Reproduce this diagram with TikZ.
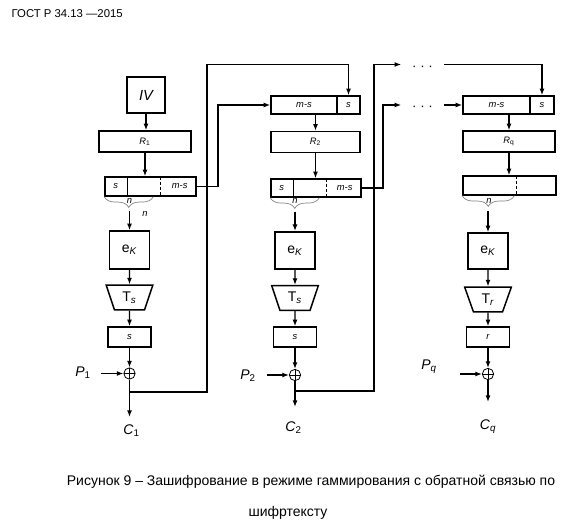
\documentclass[tikz,border=0pt]{standalone}
\usepackage{fontspec}
\setmainfont{Liberation Sans}
\usetikzlibrary{arrows.meta,calc,shapes.geometric,decorations.pathreplacing}
\newcommand{\isub}[2]{\textit{#1}\textsubscript{#2}}
\tikzset{
  blk/.style={draw,line width=1.1pt,inner sep=0pt},
  lbl/.style={font=\fontsize{7}{8}\selectfont},
  big/.style={font=\fontsize{10.5}{12}\selectfont},
  conn/.style={line width=1.05pt},
  arr/.style={conn,-{Latex[length=5pt,width=3.8pt]}},
  xorop/.style={draw,circle,line width=0.6pt,minimum size=8.5pt,inner sep=0pt,
    path picture={\draw[line width=0.6pt] (path picture bounding box.north) -- (path picture bounding box.south)
      (path picture bounding box.west) -- (path picture bounding box.east);}},
  trap/.style={blk,trapezium,trapezium stretches=true,shape border rotate=180,
    trapezium left angle=72,trapezium right angle=72,minimum width=35pt,minimum height=18.5pt},
  nbrace/.style={draw=black!50,line width=0.5pt,decorate,decoration={brace,mirror,amplitude=8pt}},
  dots/.style={font=\fontsize{10}{12}\selectfont,inner xsep=8pt,inner ysep=0pt,text height=9pt,text depth=0pt},
}
\begin{document}
\begin{tikzpicture}[x=0.75pt,y=-0.75pt]
  \useasboundingbox (0,0) rectangle (582,527);
  \node[anchor=west,font=\fontsize{8.5}{10}\selectfont] (hdr) at (7,14) {ГОСТ Р 34.13 —2015};
  % column 1
  \node[blk,minimum width=28.5pt,minimum height=27pt,font=\fontsize{11}{12}\selectfont\itshape] (iv) at (146,95) {IV};
  \node[blk,minimum width=69pt,minimum height=15.75pt,lbl] (r1) at (145,141.5) {\isub{R}{1}};
  \node[blk,minimum width=68.25pt,minimum height=14.25pt] (reg1) at (150.5,186.5) {};
  \draw[conn] ($(reg1.north west)+(23,0)$) -- ($(reg1.south west)+(23,0)$);
  \draw[conn,dash pattern=on 2.5pt off 1.5pt] ($(reg1.north west)+(56,0)$) -- ($(reg1.south west)+(56,0)$);
  \node[lbl] (rs1) at ($(reg1.west)+(11.5,0)$) {\textit{s}};
  \node[lbl] (rms1) at ($(reg1.east)+(-17,0)$) {\textit{m-s}};
  \draw[nbrace] (reg1.south west) -- ($(reg1.south west)+(49,0)$);
  \node[lbl] (n1a) at (129.5,200.5) {\textit{n}};
  \node[lbl] (n1b) at (145,214) {\textit{n}};
  \coordinate (bt1) at (129.5,211);
  \node[blk,minimum width=30pt,minimum height=28.5pt,big] (ek1) at (129.5,250) {e\textsubscript{\textit{K}}};
  \node[trap,big] (ts1) at (129.5,297.5) {T\textsubscript{\textit{s}}};
  \node[blk,minimum width=32.25pt,minimum height=15pt,lbl] (sb1) at (129.5,337) {\textit{s}};
  \node[xorop] (x1) at (129.5,373.5) {};
  \node[big] (p1) at (83,373) {\isub{P}{1}};
  \coordinate (pin1) at (101,373.5);
  \coordinate (fb1) at (129.5,392);
  \coordinate (out1) at (129.5,417);
  \node[big] (c1) at (131.5,431) {\isub{C}{1}};
  \draw[arr] (iv.south) -- (iv.south |- r1.north);
  \draw[arr] (r1.south) -- (r1.south |- reg1.north);
  \draw[arr] (bt1) -- (ek1.north);
  \draw[arr] (ek1) -- (ts1);
  \draw[arr] (ts1) -- (sb1);
  \draw[arr] (sb1) -- (x1);
  \draw[arr] (pin1) -- (x1.west);
  \draw[arr] (x1.south) -- (out1);
  % column 2
  \node[blk,minimum width=49.5pt,minimum height=13.5pt,lbl] (ms2) at (304,105) {\textit{m-s}};
  \node[blk,minimum width=17.25pt,minimum height=13.5pt,lbl] (s2t) at (348.5,105) {\textit{s}};
  \node[blk,minimum width=67pt,minimum height=15.75pt,lbl] (r2) at (315.5,142) {\isub{R}{2}};
  \node[blk,minimum width=67.5pt,minimum height=13.5pt] (reg2) at (316,188) {};
  \draw[conn] ($(reg2.north west)+(23,0)$) -- ($(reg2.south west)+(23,0)$);
  \draw[conn,dash pattern=on 2.5pt off 1.5pt] ($(reg2.north west)+(56,0)$) -- ($(reg2.south west)+(56,0)$);
  \node[lbl] (rs2) at ($(reg2.west)+(11.5,0)$) {\textit{s}};
  \node[lbl] (rms2) at ($(reg2.east)+(-17,0)$) {\textit{m-s}};
  \draw[nbrace] (reg2.south west) -- ($(reg2.south west)+(49,0)$);
  \node[lbl] (n2) at (295,201) {\textit{n}};
  \coordinate (bt2) at (295,212);
  \node[blk,minimum width=30pt,minimum height=28pt,big] (ek2) at (295,250.5) {e\textsubscript{\textit{K}}};
  \node[trap,big] (ts2) at (295,298) {T\textsubscript{\textit{s}}};
  \node[blk,minimum width=32.25pt,minimum height=15pt,lbl] (sb2) at (295,337) {\textit{s}};
  \node[xorop] (x2) at (295,375) {};
  \node[big] (p2) at (248,376) {\isub{P}{2}};
  \coordinate (pin2) at (267,375);
  \coordinate (fb2) at (295,391);
  \coordinate (out2) at (295,407);
  \node[big] (c2) at (293.5,428) {\isub{C}{2}};
  \draw[arr] (r2.north |- ms2.south) -- (r2.north);
  \draw[arr] (r2.south) -- (r2.south |- reg2.north);
  \draw[arr] (bt2) -- (ek2.north);
  \draw[arr] (ek2) -- (ts2);
  \draw[arr] (ts2) -- (sb2);
  \draw[arr] (sb2) -- (x2);
  \draw[arr] (pin2) -- (x2.west);
  \draw[arr] (x2.south) -- (out2);
  % feedback from column 1 to column 2
  \coordinate (up1) at (207,64.5);
  \coordinate (up1b) at (218,105);
  \draw[arr] (fb1) -| (up1) -| (s2t.north);
  \draw[arr] (reg1.east) -| (up1b) -- (ms2.west);
  % gap between column 2 and column q
  \node[dots] (dotsa) at (422.5,64.5) {· · ·};
  \node[dots] (dotsb) at (422.5,105) {· · ·};
  \coordinate (up2) at (374,64.5);
  \coordinate (up2b) at (383,105);
  \draw[arr] (fb2) -| (up2) -- (dotsa.west);
  \draw[arr] (reg2.east) -| (up2b) -- (dotsb.west);
  % column q
  \node[blk,minimum width=50.25pt,minimum height=13.5pt,lbl] (ms3) at (496.5,105) {\textit{m-s}};
  \node[blk,minimum width=18pt,minimum height=13.5pt,lbl] (s3t) at (542,105) {\textit{s}};
  \node[blk,minimum width=69pt,minimum height=15.75pt,lbl] (rq) at (509,141.5) {\isub{R}{q}};
  \node[blk,minimum width=69.75pt,minimum height=14.25pt] (regq) at (509.5,185.5) {};
  \draw[conn,dash pattern=on 2.5pt off 1.5pt] ($(regq.north west)+(54,0)$) -- ($(regq.south west)+(54,0)$);
  \draw[nbrace] (regq.south west) -- ($(regq.south west)+(52,0)$);
  \node[lbl] (nq) at (489,201) {\textit{n}};
  \coordinate (btq) at (488,211);
  \node[blk,minimum width=30pt,minimum height=27pt,big] (ekq) at (488,251) {e\textsubscript{\textit{K}}};
  \node[trap,big] (tr) at (488,299.5) {T\textsubscript{\textit{r}}};
  \node[blk,minimum width=32.25pt,minimum height=15pt,lbl] (rb) at (488,337) {\textit{r}};
  \node[xorop] (xq) at (488,374) {};
  \node[big] (pq) at (429,367) {\isub{P}{\textit{q}}};
  \coordinate (pinq) at (460,374);
  \coordinate (outq) at (488,402);
  \node[big] (cq) at (488,427) {\isub{C}{\textit{q}}};
  \draw[arr] (dotsa.east) -| (s3t.north);
  \draw[arr] (dotsb.east) -- (ms3.west);
  \draw[arr] (rq.north |- ms3.south) -- (rq.north);
  \draw[arr] (rq.south) -- (rq.south |- regq.north);
  \draw[arr] (btq) -- (ekq.north);
  \draw[arr] (ekq) -- (tr);
  \draw[arr] (tr) -- (rb);
  \draw[arr] (rb) -- (xq);
  \draw[arr] (pinq) -- (xq.west);
  \draw[arr] (xq.south) -- (outq);
  % caption
  \node[font=\fontsize{10.5}{12}\selectfont] (cap1) at (311,482) {Рисунок 9 – Зашифрование в режиме гаммирования с обратной связью по};
  \node[font=\fontsize{10.5}{12}\selectfont] (cap2) at (288,513) {шифртексту};
\end{tikzpicture}
\end{document}
